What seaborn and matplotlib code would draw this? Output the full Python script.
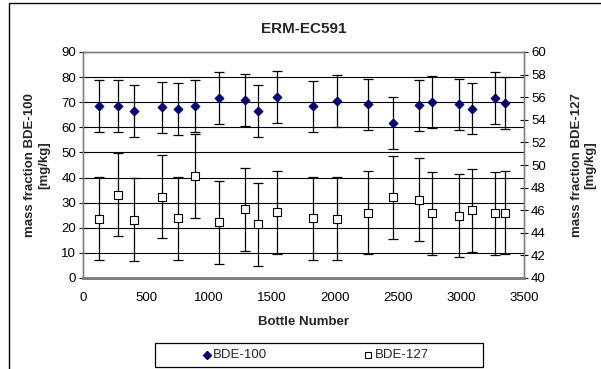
import matplotlib
matplotlib.use("Agg")
import matplotlib.pyplot as plt
import seaborn as sns
import pandas as pd
from matplotlib.lines import Line2D
from matplotlib.patches import Rectangle

sns.set_theme(style="white")
plt.rcParams['font.family'] = ['Liberation Sans', 'DejaVu Sans']

# Data
bottle = [130, 274, 403, 624, 757, 887, 1083, 1287, 1388, 1542,
          1824, 2019, 2259, 2457, 2663, 2766, 2981, 3091, 3272, 3352]
bde100 = [68.6, 68.6, 66.4, 67.9, 67.4, 68.6, 71.6, 70.8, 66.4, 72.0,
          68.3, 70.4, 69.1, 61.8, 68.7, 70.0, 69.1, 67.5, 71.7, 69.6]
bde100_err = [10.3] * 20
bde127 = [45.24, 47.38, 45.15, 47.2, 45.3, 49.03, 44.94, 46.09, 44.76, 45.8,
          45.3, 45.24, 45.79, 47.15, 46.94, 45.74, 45.53, 46.0, 45.74, 45.79]
bde127_err = [3.68] * 20

title = "ERM-EC591"
xlabel = "Bottle Number"
ylabel_left = "mass fraction BDE-100\n[mg/kg]"
ylabel_right = "mass fraction BDE-127\n[mg/kg]"
series_names = ["BDE-100", "BDE-127"]
xticks = [0, 500, 1000, 1500, 2000, 2500, 3000, 3500]
yticks_left = [0, 10, 20, 30, 40, 50, 60, 70, 80, 90]
yticks_right = [40, 42, 44, 46, 48, 50, 52, 54, 56, 58, 60]

df = pd.DataFrame({"bottle": bottle, "bde100": bde100, "e100": bde100_err,
                   "bde127": bde127, "e127": bde127_err})

W, H = 601, 369
fig = plt.figure(figsize=(W / 100, H / 100), dpi=100)
fig.patch.set_facecolor("white")
ax = fig.add_axes([83 / W, 1 - 278 / H, (524 - 83) / W, (278 - 52) / H])
ax2 = ax.twinx()

# outer chart border (left/top visible)
fig.add_artist(Rectangle((9 / W, -0.1), 1.2, 1 - 3 / H + 0.1, transform=fig.transFigure,
                         fill=False, edgecolor="black", linewidth=1.0))

# gridlines from left axis
ax.set_ylim(0, 90)
ax.set_xlim(0, 3500)
ax.set_yticks(yticks_left)
ax.set_xticks(xticks)
ax.grid(False)
for v in yticks_left[1:-1]:
    ax.axhline(v, color="black", linewidth=0.8, zorder=0)

ax.errorbar(df["bottle"], df["bde100"], yerr=df["e100"], fmt="none",
            ecolor="black", elinewidth=0.9, capsize=3.6, capthick=0.9, zorder=2)
sns.scatterplot(data=df, x="bottle", y="bde100", ax=ax, marker="D", color="#000080",
                s=22, edgecolor="#000080", linewidth=0.5, zorder=3, legend=False)

ax2.set_ylim(40, 60)
ax2.set_yticks(yticks_right)
ax2.grid(False)
ax2.errorbar(df["bottle"], df["bde127"], yerr=df["e127"], fmt="none",
             ecolor="black", elinewidth=0.9, capsize=3.6, capthick=0.9, zorder=2)
sns.scatterplot(data=df, x="bottle", y="bde127", ax=ax2, marker="s", color="white",
                s=26, edgecolor="black", linewidth=0.8, zorder=3, legend=False)

for a in (ax, ax2):
    a.set_facecolor("none")
    for s in ("top", "left", "right"):
        a.spines[s].set_color("#808080")
        a.spines[s].set_linewidth(1.0)
    a.spines["bottom"].set_color("#808080")
    a.spines["bottom"].set_linewidth(2.0)
    a.tick_params(axis="both", labelsize=9.5, colors="black", length=4, width=0.8,
                  direction="inout", pad=3)
ax.tick_params(axis="x", direction="out", length=3, pad=7)
ax.tick_params(axis="y", direction="inout", length=6, pad=2)
ax2.tick_params(axis="y", direction="inout", length=6, pad=2)
ax.set_xlabel(xlabel, fontsize=9.5, fontweight="bold", labelpad=9)
ax.set_ylabel(ylabel_left, fontsize=9.5, fontweight="bold", labelpad=8)
ax2.set_ylabel(ylabel_right, fontsize=9.5, fontweight="bold", labelpad=18)
ax.set_title(title, fontsize=11, fontweight="bold", pad=14)

# legend box drawn in figure pixels
def fx(px):
    return px / W

def fy(py):
    return 1 - py / H

fig.add_artist(Rectangle((fx(155), fy(367)), fx(483) - fx(155), fy(343) - fy(367),
                         transform=fig.transFigure, fill=True, facecolor="white",
                         edgecolor="black", linewidth=0.9))
fig.add_artist(Line2D([fx(207)], [fy(355)], transform=fig.transFigure, linestyle="none",
                      marker="D", markersize=4.5, markerfacecolor="#000080",
                      markeredgecolor="#000080"))
fig.add_artist(Line2D([fx(368)], [fy(355)], transform=fig.transFigure, linestyle="none",
                      marker="s", markersize=4.5, markerfacecolor="white",
                      markeredgecolor="black", markeredgewidth=0.8))
fig.text(fx(213), fy(355), series_names[0], fontsize=9.5, va="center", ha="left")
fig.text(fx(375), fy(355), series_names[1], fontsize=9.5, va="center", ha="left")

fig.savefig("out.png", dpi=100, facecolor="white")
